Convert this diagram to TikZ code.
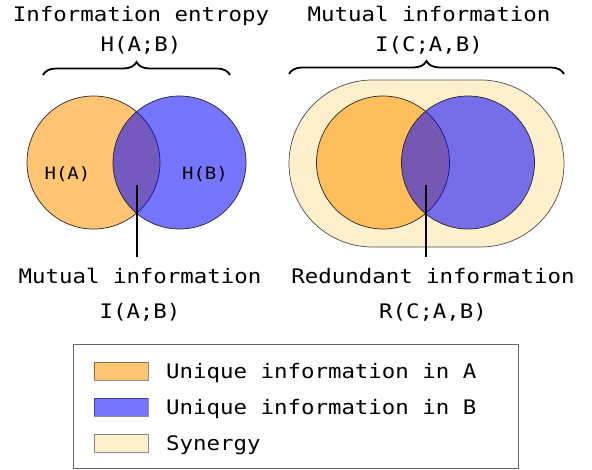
\documentclass[tikz,border=0pt]{standalone}
\usepackage{fontspec}
\newfontfamily\dvm[FakeStretch=1.12]{DejaVu Sans Mono}
\usetikzlibrary{decorations.pathreplacing}
\definecolor{orgbase}{RGB}{255,150,0}
\definecolor{blubase}{RGB}{0,0,255}
\definecolor{synfill}{RGB}{255,240,205}
\definecolor{orgsw}{RGB}{255,197,115}
\definecolor{blusw}{RGB}{117,117,255}
\begin{document}
\begin{tikzpicture}[x=1pt,y=-1pt,
  bigtxt/.style={font=\dvm\fontsize{20}{24}\selectfont, inner sep=0pt, anchor=base},
  smalltxt/.style={font=\dvm\fontsize{17}{20}\selectfont, inner sep=0pt, anchor=base},
  lgtxt/.style={font=\dvm\fontsize{20}{24}\selectfont, inner sep=0pt, anchor=base west},
  circA/.style={circle, minimum size=133pt, inner sep=0pt, draw=black!85, line width=0.7pt, fill=orgbase, fill opacity=0.55, draw opacity=1},
  circB/.style={circle, minimum size=133pt, inner sep=0pt, draw=black!85, line width=0.7pt, fill=blubase, fill opacity=0.54, draw opacity=1},
  bracestyle/.style={decorate, decoration={brace, amplitude=13pt}, line width=1.8pt},
  pointer/.style={line width=1.8pt, shorten >=11pt},
  swatch/.style={rectangle, minimum width=54pt, minimum height=18pt, inner sep=0pt, draw=black, draw opacity=0.45, line width=0.8pt},
]
\useasboundingbox (0,0) rectangle (592,469);

% ---- titles ----
\node[bigtxt] (tl1) at (141,21) {Information entropy};
\node[bigtxt] (tl2) at (141,51) {H(A;B)};
\node[bigtxt] (tr1) at (429,21) {Mutual information};
\node[bigtxt] (tr2) at (429,51) {I(C;A,B)};

% ---- braces ----
\coordinate (bl1) at (43,75);
\coordinate (bl2) at (230,75);
\coordinate (br1) at (289,74);
\coordinate (br2) at (564,74);
\draw[bracestyle] (bl1) -- (bl2);
\draw[bracestyle] (br1) -- (br2);

% ---- left Venn ----
\node[circA] (LA) at (93.5,162.5) {};
\node[circB] (LB) at (179.5,162.5) {};
\node[smalltxt] (hA) at (67.5,179) {H(A)};
\node[smalltxt] (hB) at (205,179) {H(B)};

% ---- right Venn with synergy ----
\draw[fill=synfill, draw=black!70, line width=0.7pt, rounded corners=83.5pt] (289,80) rectangle (564,247);
\node[circA] (RA) at (383,162.5) {};
\node[circB] (RB) at (468,162.5) {};

% ---- bottom labels ----
\node[bigtxt] (bl1t) at (140,283) {Mutual information};
\node[bigtxt] (bl2t) at (140,318) {I(A;B)};
\node[bigtxt] (br1t) at (433,283) {Redundant information};
\node[bigtxt] (br2t) at (433,318) {R(C;A,B)};

% ---- pointers ----
\coordinate (il) at (136.7,185);
\coordinate (ir) at (425.7,185);
\draw[pointer] (il) -- (il |- bl1t.north);
\draw[pointer] (ir) -- (ir |- br1t.north);

% ---- legend ----
\node[draw=black!60, line width=0.9pt, rectangle, minimum width=445pt, minimum height=124pt, inner sep=0pt] (legend) at (295.5,406) {};
\node[swatch, fill=orgsw] (swA) at (121,371) {};
\node[swatch, fill=blusw] (swB) at (121,407) {};
\node[swatch, fill=synfill] (swS) at (121,443) {};
\node[lgtxt] (ltA) at (166,378) {Unique information in A};
\node[lgtxt] (ltB) at (166,414) {Unique information in B};
\node[lgtxt] (ltS) at (166,450) {Synergy};
\end{tikzpicture}
\end{document}
